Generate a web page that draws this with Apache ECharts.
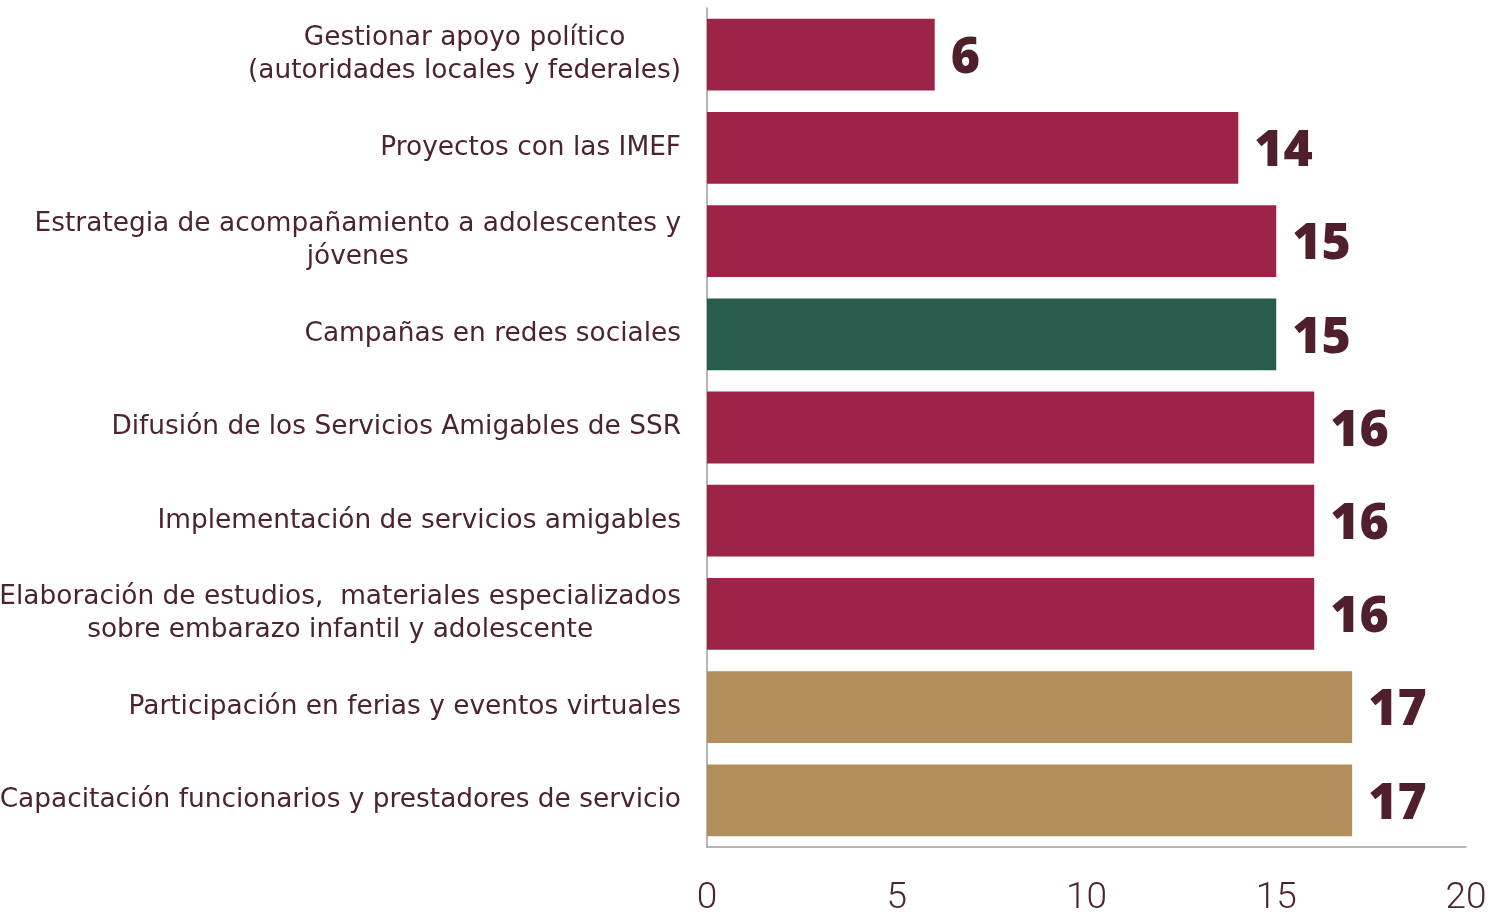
<!DOCTYPE html>
<html>
  <head>
    <meta charset="utf-8" />
    <title>Acciones</title>
    <script src="https://cdn.jsdelivr.net/npm/echarts@6/dist/echarts.min.js"></script>
    <style>
      html, body { margin: 0; padding: 0; background: #ffffff; }
    </style>
  </head>
  <body>
    <div id="chart" style="width: 1493px; height: 912px"></div>
    <script>
      // categorias de arriba hacia abajo
      var categories = [
        "Gestionar apoyo político\n(autoridades locales y federales)",
        "Proyectos con las IMEF",
        "Estrategia de acompañamiento a adolescentes y\njóvenes",
        "Campañas en redes sociales",
        "Difusión de los Servicios Amigables de SSR",
        "Implementación de servicios amigables",
        "Elaboración de estudios,  materiales especializados\nsobre embarazo infantil y adolescente",
        "Participación en ferias y eventos virtuales",
        "Capacitación funcionarios y prestadores de servicio",
      ];
      var values = [6, 14, 15, 15, 16, 16, 16, 17, 17];
      var barColors = [
        "#9b2447", "#9b2447", "#9b2447", "#285c4d", "#9b2447",
        "#9b2447", "#9b2447", "#b28e5c", "#b28e5c",
      ];
      var xTicks = [0, 5, 10, 15, 20];

      var textColor = "#4b2430";

      var data = values.map(function (v, i) {
        return { value: v, itemStyle: { color: barColors[i] } };
      });

      var option = {
        backgroundColor: "#ffffff",
        animation: false,
        grid: {
          left: 707, right: 27, top: 8, bottom: 65,
          containLabel: false,
          outerBoundsMode: "none",
        },
        xAxis: {
          type: "value",
          min: xTicks[0],
          max: xTicks[xTicks.length - 1],
          interval: 5,
          splitLine: { show: false },
          axisTick: { show: false },
          axisLine: { show: true, lineStyle: { color: "#9e9e9e", width: 1.5 } },
          axisLabel: {
            color: textColor,
            fontFamily: "'Liberation Sans Narrow', Roboto, sans-serif",
            fontWeight: 300,
            fontSize: 37,
            margin: 33,
          },
        },
        yAxis: {
          type: "category",
          inverse: true,
          data: categories,
          axisTick: { show: false },
          axisLine: { show: true, lineStyle: { color: "#9e9e9e", width: 1.5 } },
          axisLabel: {
            margin: 26,
            align: "right",
            lineHeight: 33,
            formatter: function (val) {
              return val
                .split("\n")
                .map(function (s) { return "{c|" + s + "}"; })
                .join("\n");
            },
            rich: {
              c: {
                align: "center",
                color: textColor,
                fontFamily: "'DejaVu Sans', sans-serif",
                fontSize: 26.4,
                lineHeight: 33,
              },
            },
          },
        },
        series: [
          {
            type: "bar",
            data: data,
            barCategoryGap: "23%",
            label: {
              show: true,
              position: "right",
              distance: 16,
              offset: [0, 4],
              color: "#4f1f2c",
              fontFamily: "'Noto Sans', sans-serif",
              fontWeight: 900,
              fontSize: 50,
            },
          },
        ],
      };

      var chart = echarts.init(document.getElementById("chart"));
      chart.setOption(option);
    </script>
  </body>
</html>
